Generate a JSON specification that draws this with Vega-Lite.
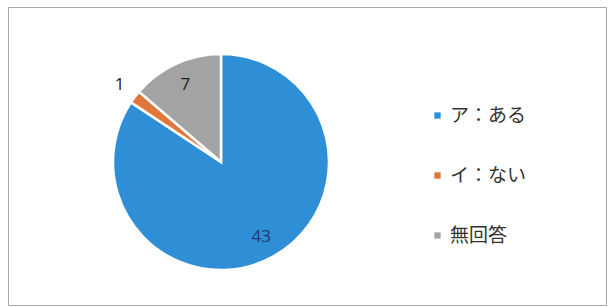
{
  "$schema": "https://vega.github.io/schema/vega-lite/v6.json",
  "width": 598,
  "height": 298,
  "autosize": {"type": "none"},
  "padding": {"left": 8, "top": 7, "right": 2, "bottom": 2},
  "background": "white",
  "view": {"stroke": "#a8a8a8", "strokeWidth": 1, "fill": "white"},
  "config": {
    "font": "Noto Sans CJK JP"
  },
  "data": {
    "values": [
      {"category": "ア：ある", "value": 43, "order": 1},
      {"category": "イ：ない", "value": 1, "order": 2},
      {"category": "無回答", "value": 7, "order": 3}
    ]
  },
  "transform": [
    {"stack": "value", "sort": [{"field": "order", "order": "ascending"}], "groupby": [], "as": ["s0", "s1"]},
    {"calculate": "(datum.s0 + datum.s1) / 2", "as": "mid"},
    {"calculate": "datum.value == 1 ? 1 : 0", "as": "outside"}
  ],
  "resolve": {"scale": {"theta": "shared"}},
  "layer": [
    {
      "mark": {"type": "arc", "outerRadius": 108, "x": 213, "y": 155, "stroke": "white", "strokeWidth": 2.5},
      "encoding": {
        "theta": {"field": "s0", "type": "quantitative", "stack": null, "scale": {"domain": [0, 51], "nice": false, "zero": true}},
        "theta2": {"field": "s1"},
        "color": {
          "field": "category",
          "type": "nominal",
          "scale": {"domain": ["ア：ある", "イ：ない", "無回答"], "range": ["#2e8fd6", "#e0763a", "#a3a3a3"]},
          "sort": null,
          "legend": {
            "title": null,
            "orient": "none",
            "legendX": 420,
            "legendY": 99,
            "symbolType": "square",
            "symbolSize": 40,
            "symbolStrokeWidth": 0,
            "labelFontSize": 19,
            "labelColor": "#333333",
            "labelFont": "Noto Sans CJK JP",
            "labelOffset": 3,
            "rowPadding": 40,
            "padding": 0
          }
        }
      }
    },
    {
      "mark": {"type": "text", "x": 213, "y": 155, "font": "Open Sans", "fontSize": 17},
      "encoding": {
        "theta": {"field": "mid", "type": "quantitative", "stack": null, "scale": {"domain": [0, 51], "nice": false, "zero": true}},
        "text": {"field": "value", "type": "quantitative"},
        "radius": {"field": "outside", "type": "quantitative", "scale": {"type": "linear", "domain": [0, 1], "range": [85, 127], "zero": false}, "legend": null},
        "color": {"condition": {"test": "datum.value == 43", "value": "#1f3c70"}, "value": "#222222"}
      }
    }
  ]
}
